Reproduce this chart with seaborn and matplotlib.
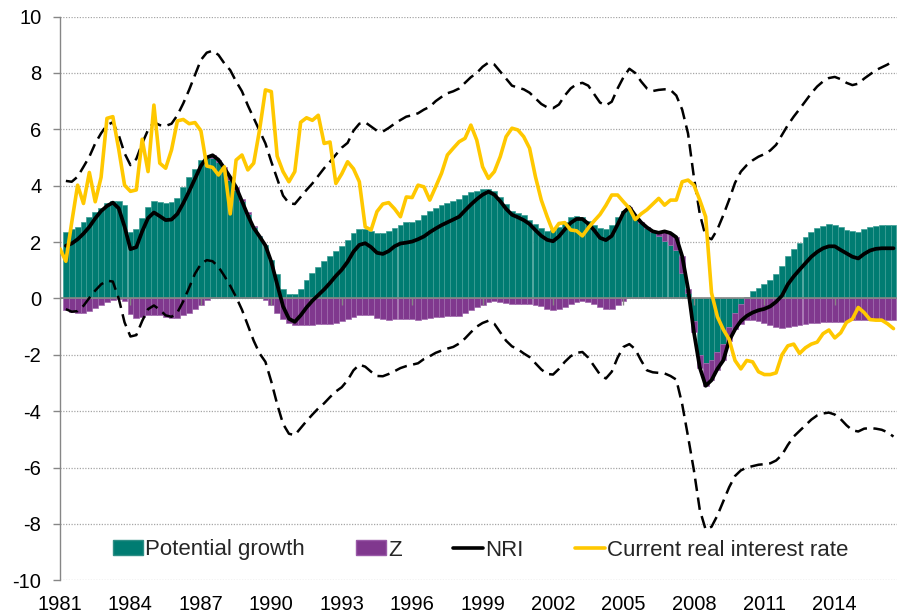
import numpy as np
import pandas as pd
import matplotlib
matplotlib.use("Agg")
import matplotlib.pyplot as plt
from matplotlib.patches import Patch
from matplotlib.lines import Line2D
import seaborn as sns

nan = np.nan

# Quarterly data, 1981Q1 onwards
first_year = 1981
tick_years = [1981, 1984, 1987, 1990, 1993, 1996, 1999, 2002, 2005, 2008, 2011, 2014]

potential_growth = [
    nan, 2.37, 2.45, 2.55, 2.70, 2.90, 3.05, 3.20, 3.37, 3.47,
    3.47, 3.30, 2.35, 2.45, 2.85, 3.25, 3.47, 3.43, 3.40, 3.43,
    3.55, 3.95, 4.30, 4.60, 4.90, 4.97, 5.00, 4.85, 4.55, 4.20,
    3.85, 3.45, 3.00, 2.55, 2.20, 1.90, 1.35, 0.85, 0.35, 0.15,
    0.15, 0.35, 0.65, 0.90, 1.10, 1.32, 1.50, 1.70, 1.87, 2.08,
    2.33, 2.47, 2.47, 2.40, 2.33, 2.32, 2.38, 2.50, 2.62, 2.70,
    2.72, 2.80, 2.96, 3.10, 3.20, 3.30, 3.38, 3.45, 3.52, 3.67,
    3.77, 3.83, 3.89, 3.90, 3.80, 3.60, 3.35, 3.12, 3.03, 2.95,
    2.80, 2.64, 2.50, 2.40, 2.42, 2.55, 2.72, 2.88, 2.93, 2.90,
    2.75, 2.60, 2.49, 2.45, 2.62, 2.90, 3.12, 3.22, 2.95, 2.68,
    2.50, 2.35, 2.22, 2.05, 1.90, 1.72, 0.90, 0.20, -0.80, -2.00,
    -2.30, -2.20, -1.90, -1.60, -1.00, -0.50, -0.20, 0.05, 0.25, 0.38,
    0.50, 0.65, 0.85, 1.15, 1.50, 1.75, 1.97, 2.18, 2.37, 2.50,
    2.58, 2.65, 2.62, 2.52, 2.44, 2.38, 2.36, 2.46, 2.53, 2.58,
    2.60, 2.60, 2.60,
]

z_factor = [
    nan, -0.40, -0.48, -0.53, -0.52, -0.45, -0.35, -0.25, -0.12, -0.05,
    -0.02, -0.10, -0.55, -0.68, -0.65, -0.60, -0.58, -0.60, -0.65, -0.70,
    -0.70, -0.60, -0.50, -0.38, -0.25, -0.05, 0.08, 0.07, 0.10, 0.10,
    0.10, 0.08, 0.05, 0.03, 0.02, -0.05, -0.25, -0.50, -0.72, -0.88,
    -0.95, -0.95, -0.94, -0.93, -0.92, -0.91, -0.90, -0.87, -0.80, -0.72,
    -0.65, -0.60, -0.57, -0.60, -0.68, -0.74, -0.76, -0.74, -0.72, -0.72,
    -0.73, -0.75, -0.72, -0.68, -0.66, -0.65, -0.64, -0.63, -0.62, -0.52,
    -0.40, -0.32, -0.22, -0.12, -0.10, -0.12, -0.17, -0.18, -0.18, -0.19,
    -0.20, -0.23, -0.28, -0.36, -0.40, -0.38, -0.30, -0.20, -0.12, -0.08,
    -0.12, -0.20, -0.30, -0.38, -0.38, -0.25, -0.08, 0.02, 0.00, 0.02,
    0.02, 0.05, 0.12, 0.33, 0.42, 0.45, 0.60, 0.15, -0.40, -0.45,
    -0.80, -0.70, -0.65, -0.60, -0.50, -0.60, -0.70, -0.75, -0.75, -0.80,
    -0.88, -0.95, -1.02, -1.05, -1.00, -0.97, -0.95, -0.90, -0.88, -0.87,
    -0.85, -0.83, -0.83, -0.82, -0.80, -0.78, -0.77, -0.76, -0.76, -0.77,
    -0.77, -0.77, -0.77,
]

nri = [
    nan, 1.87, 1.95, 2.10, 2.30, 2.54, 2.84, 3.10, 3.28, 3.40,
    3.20, 2.55, 1.75, 1.82, 2.38, 2.85, 3.05, 2.92, 2.78, 2.80,
    3.00, 3.38, 3.80, 4.25, 4.70, 5.00, 5.08, 4.92, 4.62, 4.30,
    3.95, 3.45, 2.95, 2.50, 2.20, 1.88, 1.30, 0.50, -0.28, -0.72,
    -0.83, -0.60, -0.32, -0.08, 0.12, 0.32, 0.55, 0.80, 1.02, 1.30,
    1.66, 1.90, 1.96, 1.82, 1.62, 1.58, 1.68, 1.85, 1.95, 1.98,
    2.02, 2.10, 2.20, 2.35, 2.48, 2.60, 2.70, 2.80, 2.90, 3.12,
    3.33, 3.52, 3.68, 3.79, 3.68, 3.45, 3.18, 2.97, 2.88, 2.78,
    2.64, 2.42, 2.22, 2.08, 2.03, 2.20, 2.45, 2.68, 2.82, 2.82,
    2.65, 2.42, 2.15, 2.07, 2.22, 2.62, 3.05, 3.24, 2.95, 2.70,
    2.52, 2.38, 2.33, 2.38, 2.32, 2.17, 1.50, 0.35, -1.20, -2.45,
    -3.10, -2.90, -2.50, -2.20, -1.50, -1.10, -0.80, -0.62, -0.50, -0.42,
    -0.37, -0.28, -0.12, 0.10, 0.50, 0.78, 1.02, 1.25, 1.48, 1.65,
    1.78, 1.85, 1.85, 1.72, 1.60, 1.48, 1.42, 1.58, 1.70, 1.76,
    1.78, 1.78, 1.78,
]

nri_upper = [
    nan, 4.17, 4.14, 4.32, 4.67, 5.03, 5.50, 5.86, 6.15, 6.25,
    5.80, 5.15, 4.73, 4.95, 5.50, 5.98, 6.25, 6.15, 6.12, 6.20,
    6.50, 6.92, 7.40, 7.93, 8.46, 8.72, 8.79, 8.64, 8.34, 8.10,
    7.70, 7.35, 6.85, 6.40, 5.95, 5.50, 4.85, 4.25, 3.65, 3.38,
    3.35, 3.60, 3.85, 4.08, 4.35, 4.62, 4.85, 5.10, 5.35, 5.52,
    5.95, 6.20, 6.25, 6.10, 5.95, 5.92, 6.05, 6.20, 6.33, 6.45,
    6.50, 6.57, 6.70, 6.80, 7.00, 7.15, 7.28, 7.35, 7.45, 7.65,
    7.85, 8.00, 8.22, 8.37, 8.30, 8.05, 7.80, 7.55, 7.48, 7.42,
    7.30, 7.10, 6.90, 6.78, 6.75, 6.88, 7.20, 7.45, 7.60, 7.65,
    7.55, 7.25, 6.95, 6.85, 6.98, 7.45, 7.85, 8.15, 8.00, 7.70,
    7.45, 7.36, 7.40, 7.42, 7.40, 7.20, 6.70, 5.85, 4.30, 3.00,
    2.20, 2.10, 2.45, 2.95, 3.50, 4.10, 4.50, 4.73, 4.90, 5.03,
    5.12, 5.25, 5.45, 5.80, 6.15, 6.45, 6.72, 7.00, 7.28, 7.52,
    7.70, 7.82, 7.86, 7.78, 7.65, 7.57, 7.62, 7.80, 7.95, 8.10,
    8.20, 8.30, 8.45,
]

nri_lower = [
    nan, -0.38, -0.47, -0.45, -0.26, 0.02, 0.28, 0.50, 0.63, 0.60,
    0.00, -0.85, -1.35, -1.30, -0.80, -0.38, -0.25, -0.40, -0.60, -0.65,
    -0.50, -0.10, 0.38, 0.88, 1.22, 1.36, 1.32, 1.12, 0.80, 0.45,
    0.05, -0.40, -0.95, -1.50, -1.95, -2.25, -2.95, -3.75, -4.45, -4.80,
    -4.85, -4.60, -4.35, -4.12, -3.90, -3.72, -3.50, -3.30, -3.15, -2.90,
    -2.55, -2.35, -2.42, -2.60, -2.75, -2.76, -2.68, -2.58, -2.47, -2.40,
    -2.35, -2.30, -2.15, -2.05, -1.93, -1.85, -1.78, -1.72, -1.60, -1.42,
    -1.20, -1.00, -0.87, -0.79, -0.90, -1.20, -1.50, -1.70, -1.80, -1.95,
    -2.08, -2.30, -2.52, -2.68, -2.70, -2.50, -2.25, -2.05, -1.93, -1.90,
    -2.10, -2.40, -2.70, -2.84, -2.60, -2.10, -1.72, -1.62, -1.80, -2.20,
    -2.55, -2.62, -2.64, -2.66, -2.75, -2.88, -3.75, -4.90, -6.10, -7.50,
    -8.20, -8.10, -7.70, -7.20, -6.70, -6.30, -6.10, -6.00, -5.95, -5.90,
    -5.88, -5.85, -5.75, -5.55, -5.20, -4.90, -4.70, -4.50, -4.30, -4.15,
    -4.08, -4.05, -4.12, -4.28, -4.50, -4.68, -4.72, -4.62, -4.60, -4.62,
    -4.66, -4.75, -4.90,
]

real_rate = [
    1.76, 1.32, 2.70, 4.02, 3.37, 4.47, 3.43, 4.30, 6.39, 6.45,
    5.30, 4.02, 3.80, 3.85, 5.65, 4.50, 6.86, 4.80, 4.62, 5.27,
    6.30, 6.35, 6.20, 6.24, 5.95, 4.70, 4.65, 4.38, 4.67, 3.00,
    4.91, 5.09, 4.56, 4.80, 5.98, 7.40, 7.34, 5.05, 4.50, 4.14,
    4.50, 6.25, 6.41, 6.32, 6.50, 5.50, 5.55, 4.08, 4.42, 4.85,
    4.60, 4.14, 2.54, 2.43, 3.08, 3.35, 3.40, 3.18, 2.90, 3.60,
    3.58, 4.02, 3.96, 3.49, 3.96, 4.44, 5.09, 5.33, 5.56, 5.68,
    6.15, 5.62, 4.67, 4.26, 4.50, 5.03, 5.74, 6.04, 5.98, 5.74,
    5.33, 4.32, 3.49, 2.90, 2.37, 2.66, 2.69, 2.43, 2.40, 2.22,
    2.50, 2.75, 2.98, 3.30, 3.67, 3.67, 3.43, 3.20, 2.80, 3.00,
    3.15, 3.35, 3.55, 3.31, 3.49, 3.49, 4.14, 4.20, 4.02, 3.49,
    2.90, 0.20, -0.65, -1.10, -1.45, -2.20, -2.50, -2.20, -2.25, -2.60,
    -2.70, -2.70, -2.64, -2.00, -1.68, -1.62, -1.95, -1.75, -1.62, -1.55,
    -1.25, -1.12, -1.40, -1.22, -0.85, -0.73, -0.32, -0.50, -0.75, -0.77,
    -0.77, -0.90, -1.07,
]

df = pd.DataFrame({
    'growth': potential_growth,
    'z': z_factor,
    'nri': nri,
    'upper': nri_upper,
    'lower': nri_lower,
    'rate': real_rate,
})
df['year'] = first_year + np.arange(len(df)) / 4

teal = '#007C72'
purple = '#80388E'
yellow = '#FFC800'
grey = '#868686'

sns.set_style('white')
plt.rcParams['font.family'] = ['Liberation Sans', 'DejaVu Sans']
plt.rcParams['axes.unicode_minus'] = False

fig = plt.figure(figsize=(8.97, 6.15), dpi=100)
ax = fig.add_axes([60 / 897, 34.7 / 615, 1 - 60 / 897, 563.7 / 615])

# Stacked bars: negative parts stack below zero like Excel
g = df['growth'].fillna(0).to_numpy()
zv = df['z'].fillna(0).to_numpy()
z_bottom = np.where(np.sign(zv) == np.sign(g), g, 0)
ax.bar(df['year'], g, width=0.25, align='center', color=teal,
       edgecolor='#3E9E95', linewidth=0.5, zorder=2)
ax.bar(df['year'], zv, bottom=z_bottom, width=0.25, align='center',
       color=purple, edgecolor='#A06AAD', linewidth=0.5, zorder=2)

# zero line with small ticks
ax.axhline(0, color=grey, linewidth=1.2, zorder=2.5)
ax.vlines(tick_years[1:], -0.25, 0, color=grey, linewidth=1, zorder=2.5)

# confidence band
for col in ['upper', 'lower']:
    sns.lineplot(data=df, x='year', y=col, ax=ax, color='black',
                 linewidth=1.8, linestyle=(0, (5, 2.6)), estimator=None,
                 zorder=3)

sns.lineplot(data=df, x='year', y='nri', ax=ax, color='black',
             linewidth=2.7, estimator=None, zorder=4)
sns.lineplot(data=df, x='year', y='rate', ax=ax, color=yellow,
             linewidth=2.6, estimator=None, zorder=5)

ax.set_xlim(first_year, first_year + 142.6 / 4)
ax.set_ylim(-10, 10)
ax.set_yticks(range(-10, 11, 2))
ax.set_xticks(tick_years)
ax.set_xticklabels([str(y) for y in tick_years])
ax.set_xlabel('')
ax.set_ylabel('')

ax.grid(axis='y', color='#A6A6A6', linestyle=(0, (1, 1.2)), linewidth=0.9)
ax.grid(axis='x', visible=False)
ax.set_axisbelow(True)

for side in ['top', 'right', 'bottom']:
    ax.spines[side].set_visible(False)
ax.spines['left'].set_color(grey)
ax.spines['left'].set_linewidth(1)

ax.tick_params(axis='y', length=5, width=1, color=grey, pad=8.5,
               labelsize=14.5, labelcolor='black', left=True)
ax.tick_params(axis='x', length=0, pad=10.5, labelsize=14.5,
               labelcolor='black')

handles = [
    Patch(facecolor=teal, edgecolor='#2E8F86'),
    Patch(facecolor=purple, edgecolor='#9A5AA8'),
    Line2D([], [], color='black', linewidth=2.6),
    Line2D([], [], color=yellow, linewidth=2.6),
]
labels = ['Potential growth', 'Z', 'NRI', 'Current real interest rate']
fig.legend(handles, labels, loc='center left',
           bbox_to_anchor=(113 / 897, 1 - 550 / 615), ncol=4, frameon=False,
           fontsize=16, handlelength=1.35, handleheight=0.63,
           handletextpad=0.1, columnspacing=2.3, borderpad=0,
           borderaxespad=0)

fig.savefig('out.png', dpi=100)
